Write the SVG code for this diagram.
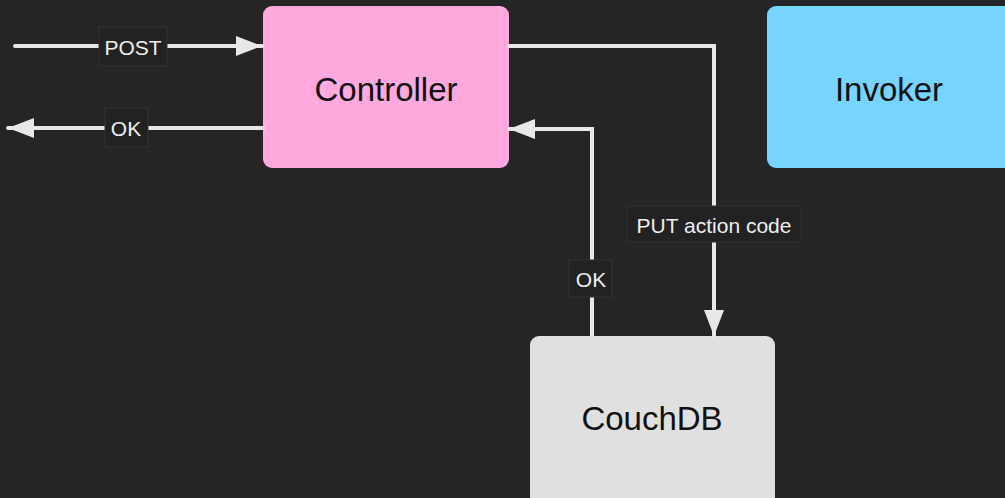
<svg xmlns="http://www.w3.org/2000/svg" width="1005" height="498" viewBox="0 0 1005 498">
<defs>
<style>
.node{stroke:none}
.ntext{font-family:"Liberation Sans",Arial,sans-serif;font-size:33px;fill:#111;text-anchor:middle;dominant-baseline:central}
.edge{fill:none;stroke:#e8e8e8;stroke-width:4;stroke-linecap:round;stroke-linejoin:miter}
.lbox{fill:#222222;stroke:#333333;stroke-width:1}
.ltext{font-family:"Liberation Sans",Arial,sans-serif;font-size:21px;fill:#eeeeee;text-anchor:middle;dominant-baseline:central}
</style>
<marker id="arr" viewBox="0 0 26 20" refX="26" refY="10" markerWidth="26" markerHeight="20" markerUnits="userSpaceOnUse" orient="auto">
<path d="M0,0 L26,10 L0,20 Z" fill="#e8e8e8"/>
</marker>
</defs>
<rect width="1005" height="498" fill="#252525"/>
<g id="controller">
<rect class="node" x="263" y="6" width="246" height="162" rx="9" fill="#ffa9de"/>
<text class="ntext" x="386" y="89">Controller</text>
</g>
<g id="invoker">
<rect class="node" x="767" y="6" width="250" height="162" rx="9" fill="#76d4ff"/>
<text class="ntext" x="889" y="89">Invoker</text>
</g>
<g id="couchdb">
<rect class="node" x="530" y="336" width="245" height="175" rx="9" fill="#e0e0e0"/>
<text class="ntext" x="652" y="418">CouchDB</text>
</g>
<g id="connectors">
<path class="edge" d="M15,46 L262,46" marker-end="url(#arr)"/>
<path class="edge" d="M263,128 L8,128" marker-end="url(#arr)"/>
<path class="edge" d="M509,46 L714,46 L714,336" marker-end="url(#arr)"/>
<path class="edge" d="M592,336 L592,129 L509,129" marker-end="url(#arr)"/>
<rect class="lbox" x="99" y="27" width="68" height="39"/>
<text class="ltext" x="133" y="47">POST</text>
<rect class="lbox" x="105" y="108" width="43" height="39"/>
<text class="ltext" x="126" y="128">OK</text>
<rect class="lbox" x="627" y="206" width="174" height="36"/>
<text class="ltext" x="714" y="225">PUT action code</text>
<rect class="lbox" x="569" y="260" width="43" height="37"/>
<text class="ltext" x="591" y="279">OK</text>
</g>
</svg>
